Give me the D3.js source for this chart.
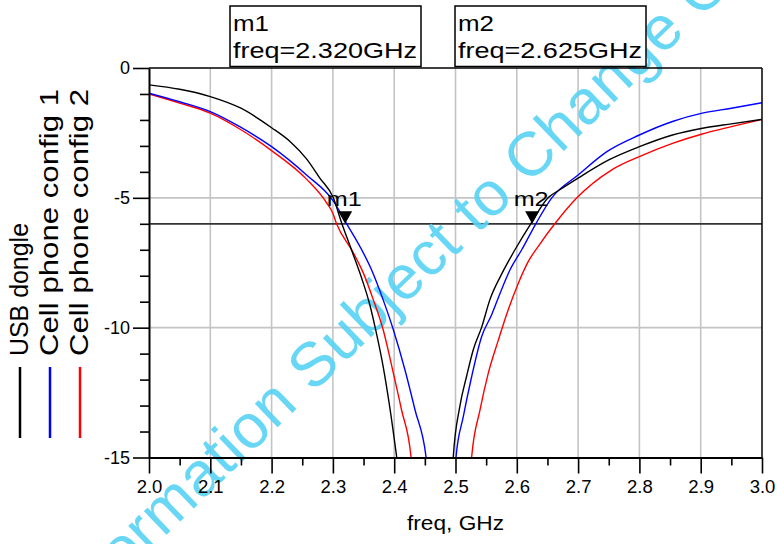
<!DOCTYPE html>
<html><head><meta charset="utf-8">
<script src="https://cdn.jsdelivr.net/npm/d3@7"></script>
<style>
body{margin:0;background:#fff}
svg{display:block}
text{font-family:"Liberation Sans",Arial,Helvetica,sans-serif;fill:#000}
</style>
</head><body>
<svg id="chart" width="777" height="544"></svg>
<script>
// ---------- data ----------
const xTickValues = [2.0,2.1,2.2,2.3,2.4,2.5,2.6,2.7,2.8,2.9,3.0];
const xTickLabels = ["2.0","2.1","2.2","2.3","2.4","2.5","2.6","2.7","2.8","2.9","3.0"];
const yTickValues = [0,-5,-10,-15];
const yTickLabels = ["0","-5","-10","-15"];
const xTitle = "freq, GHz";
const seriesNames = ["USB dongle","Cell phone config 1","Cell phone config 2"];
const seriesColors = ["#000000","#0000ff","#ff0000"];

// USB dongle (black) [freq GHz, dB]
const usbLow = [[2.0,-0.65],[2.05,-0.82],[2.1,-1.1],[2.15,-1.55],[2.2,-2.3],[2.23,-2.83],[2.257,-3.5],[2.279,-4.25],[2.3007,-5.0],[2.314,-5.95],[2.331,-7.05],[2.347,-8.1],[2.36,-9.1],[2.369,-10.0],[2.382,-11.5],[2.393,-13.1],[2.404,-14.97],[2.407,-15.5]];
const usbHigh = [[2.495,-15.5],[2.4964,-14.97],[2.507,-13.04],[2.518,-11.88],[2.529,-10.85],[2.543,-9.96],[2.556,-8.93],[2.575,-7.95],[2.597,-7.0],[2.624,-5.95],[2.651,-5.0],[2.67,-4.69],[2.7,-4.24],[2.75,-3.54],[2.8,-3.03],[2.854,-2.58],[2.903,-2.32],[2.95,-2.15],[3.0,-1.98]];
// Cell phone config 1 (blue)
const cfg1Low = [[2.0,-0.97],[2.05,-1.3],[2.1,-1.68],[2.148,-2.26],[2.2,-3.03],[2.257,-4.12],[2.3,-5.1],[2.3225,-6.0],[2.347,-7.0],[2.363,-7.77],[2.382,-8.93],[2.3986,-10.08],[2.4176,-11.63],[2.434,-13.17],[2.4519,-14.97],[2.4545,-15.5]];
const cfg1High = [[2.5,-15.5],[2.5008,-15.0],[2.5128,-13.42],[2.5264,-11.88],[2.5427,-10.34],[2.559,-9.5],[2.5726,-8.68],[2.589,-7.77],[2.608,-7.0],[2.631,-6.0],[2.657,-5.0],[2.7,-4.12],[2.747,-3.22],[2.8,-2.58],[2.854,-2.06],[2.9026,-1.74],[2.95,-1.55],[3.0,-1.34]];
// Cell phone config 2 (red)
const cfg2Low = [[2.0,-1.0],[2.05,-1.35],[2.1,-1.74],[2.148,-2.35],[2.2,-3.18],[2.257,-4.28],[2.29,-5.2],[2.3,-5.6],[2.306,-6.0],[2.333,-7.1],[2.3497,-7.9],[2.366,-8.93],[2.382,-10.08],[2.3986,-11.75],[2.412,-13.17],[2.4274,-14.97],[2.429,-15.5]];
const cfg2High = [[2.525,-15.5],[2.5264,-14.97],[2.54,-13.17],[2.5535,-11.75],[2.57,-10.47],[2.586,-9.31],[2.6025,-8.29],[2.6188,-7.45],[2.637,-6.8],[2.662,-6.0],[2.698,-5.0],[2.755,-3.92],[2.8,-3.41],[2.854,-2.9],[2.9026,-2.54],[2.95,-2.26],[3.0,-1.98]];

const refLevel = -6;
const markerNames = ["m1","m2"];
const markerFreqs = [2.320, 2.625];
const markerTexts = ["freq=2.320GHz","freq=2.625GHz"];
const watermarkText = "Information Subject to Change CO";

// ---------- layout ----------
const svg = d3.select("#chart");
const L = 149, R = 762, T = 68, B = 457.5;
const x = d3.scaleLinear().domain([2.0,3.0]).range([L,R]);
const y = d3.scaleLinear().domain([-15,0]).range([B,T]);

svg.append("defs").append("clipPath").attr("id","plotclip")
  .append("rect").attr("x",L).attr("y",T).attr("width",R-L).attr("height",B-T);

// grid
const grid = svg.append("g");
grid.selectAll("line.vg").data(xTickValues.slice(1,-1)).join("line")
  .attr("x1",d=>x(d)).attr("x2",d=>x(d)).attr("y1",T).attr("y2",B)
  .attr("stroke","#c4c4c4").attr("stroke-width",1.6);
grid.selectAll("line.hg").data([-5,-10]).join("line")
  .attr("x1",L).attr("x2",R).attr("y1",d=>y(d)).attr("y2",d=>y(d))
  .attr("stroke","#c4c4c4").attr("stroke-width",1.6);

// reference level line
svg.append("line").attr("x1",L).attr("x2",R).attr("y1",y(refLevel)).attr("y2",y(refLevel))
  .attr("stroke","#333").attr("stroke-width",1.8);

// watermark (behind curves)
svg.append("text").attr("transform","translate(72,626) rotate(-44)")
  .attr("font-size",62).attr("letter-spacing",0.6).style("fill","#58d3f6").attr("opacity",0.9).text(watermarkText);

// curves
const line = d3.line().curve(d3.curveMonotoneX).x(d=>x(d[0])).y(d=>y(d[1]));
const curves = [[usbLow,0],[usbHigh,0],[cfg1Low,1],[cfg1High,1],[cfg2Low,2],[cfg2High,2]];
const cg = svg.append("g").attr("clip-path","url(#plotclip)");
[2,1,0].forEach(si=>{
  curves.filter(c=>c[1]===si).forEach(c=>{
    cg.append("path").attr("d",line(c[0])).attr("fill","none")
      .attr("stroke",seriesColors[si]).attr("stroke-width",1.4);
  });
});

// frame
svg.append("line").attr("x1",L).attr("x2",R).attr("y1",T).attr("y2",T).attr("stroke","#000").attr("stroke-width",1.5);
svg.append("line").attr("x1",R).attr("x2",R).attr("y1",T).attr("y2",B).attr("stroke","#000").attr("stroke-width",1.5);

// y axis
const yAxis = d3.axisLeft(y).tickValues(d3.range(-15,1,1)).tickSizeOuter(0)
  .tickFormat(d=>{const i=yTickValues.indexOf(d);return i>=0?yTickLabels[i]:"";});
const ya = svg.append("g").attr("transform",`translate(${L},0)`).call(yAxis);
ya.select(".domain").attr("stroke","#000").attr("stroke-width",2);
ya.selectAll(".tick line").attr("stroke","#000").attr("stroke-width",1.6)
  .attr("x2",d=>yTickValues.includes(d)?-16:-9);
ya.selectAll(".tick text").attr("x",-19).attr("font-size",18)
  .attr("font-family","'Liberation Sans',Arial,sans-serif").attr("fill","#000");

// x axis
const xAxis = d3.axisBottom(x).tickValues(d3.range(0,21).map(i=>2+i*0.05)).tickSizeOuter(0)
  .tickFormat(d=>{const i=xTickValues.findIndex(v=>Math.abs(v-d)<1e-6);return i>=0?xTickLabels[i]:"";});
const xa = svg.append("g").attr("transform",`translate(0,${B})`).call(xAxis);
xa.select(".domain").attr("stroke","#000").attr("stroke-width",2);
xa.selectAll(".tick line").attr("stroke","#000").attr("stroke-width",1.6)
  .attr("y2",d=>xTickValues.some(v=>Math.abs(v-d)<1e-6)?16:8);
xa.selectAll(".tick text").attr("y",22).attr("font-size",18.5)
  .attr("font-family","'Liberation Sans',Arial,sans-serif").attr("fill","#000");

svg.append("text").attr("x",(L+R)/2).attr("y",530).attr("text-anchor","middle")
  .attr("font-size",21).attr("textLength",97).attr("lengthAdjust","spacingAndGlyphs").text(xTitle);

// markers
const mk = svg.append("g");
markerFreqs.forEach((f,i)=>{
  const mx = x(f), my = y(refLevel);
  mk.append("path").attr("d",`M${mx},${my}L${mx-7},${my-12.5}L${mx+7},${my-12.5}Z`).attr("fill","#000");
  mk.append("text").attr("x",mx-1).attr("y",my-18).attr("text-anchor","middle")
    .attr("font-size",21).attr("textLength",35).attr("lengthAdjust","spacingAndGlyphs").text(markerNames[i]);
});

// marker readout boxes
const boxLeft = [230,455];
markerNames.forEach((n,i)=>{
  const g = svg.append("g").attr("transform",`translate(${boxLeft[i]},6)`);
  g.append("rect").attr("width",191).attr("height",60.5).attr("fill","#fff")
    .attr("stroke","#000").attr("stroke-width",1.5);
  g.append("text").attr("x",3).attr("y",25).attr("font-size",22)
    .attr("textLength",36).attr("lengthAdjust","spacingAndGlyphs").text(n);
  g.append("text").attr("x",3).attr("y",52).attr("font-size",22)
    .attr("textLength",184).attr("lengthAdjust","spacingAndGlyphs").text(markerTexts[i]);
});

// legend (rotated)
const legX = [20,50,80];
const legLen = [133,267,267];
seriesNames.forEach((n,i)=>{
  svg.append("line").attr("x1",legX[i]).attr("x2",legX[i]).attr("y1",367).attr("y2",438)
    .attr("stroke",seriesColors[i]).attr("stroke-width",2.5);
  svg.append("text").attr("transform",`translate(${legX[i]+8},356) rotate(-90)`)
    .attr("font-size",25).attr("textLength",legLen[i]).attr("lengthAdjust","spacingAndGlyphs").text(n);
});
</script>
</body></html>
